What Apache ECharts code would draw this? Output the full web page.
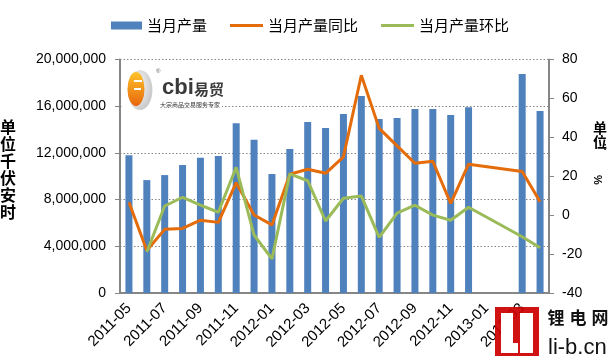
<!DOCTYPE html>
<html>
<head>
<meta charset="utf-8">
<script src="https://cdn.jsdelivr.net/npm/echarts@6/dist/echarts.min.js"></script>
<style>html,body{margin:0;padding:0;background:#fff;}#c{width:611px;height:356px;}</style>
</head>
<body>
<div id="c"></div>
<script>
const months = ['2011-05','2011-06','2011-07','2011-08','2011-09','2011-10','2011-11','2011-12',
  '2012-01','2012-02','2012-03','2012-04','2012-05','2012-06','2012-07','2012-08','2012-09','2012-10','2012-11','2012-12',
  '2013-01','2013-02','2013-03','2013-04'];
const output = [11800000, 9670000, 10100000, 10960000, 11580000, 11730000, 14550000, 13130000,
  10190000, 12330000, 14640000, 14130000, 15330000, 16870000, 14900000, 14980000, 15750000, 15750000, 15240000, 15920000,
  null, null, 18750000, 15580000];
const yoy = [6.6, -18.2, -7.3, -6.8, -2.6, -3.7, 16.7, 0.1,
  -5.0, 21.0, 23.6, 21.5, 30.0, 71.9, 44.6, 35.6, 26.7, 27.7, 6.1, 26.2,
  null, null, 22.4, 6.9];
const mom = [null, -18.9, 4.7, 9.2, 5.2, 1.5, 24.6, -10.2,
  -22.5, 21.2, 17.7, -3.0, 8.7, 9.9, -11.4, 1.1, 5.1, 0.0, -2.6, 4.1,
  null, null, -11.1, -16.7];
const seriesNames = ['当月产量', '当月产量同比', '当月产量环比'];

const numFont = 'Liberation Sans';
const cjkFont = 'Noto Sans CJK SC';
const axisGray = '#868686';

const chart = echarts.init(document.getElementById('c'), null, {renderer: 'canvas'});
chart.setOption({
  animation: false,
  backgroundColor: '#fff',
  grid: {left: 120, right: 62, top: 59.5, bottom: 63, containLabel: false},
  legend: [
    {data: [seriesNames[0]], left: 106, top: 13, icon: 'rect', itemWidth: 31, itemHeight: 8,
     textStyle: {fontFamily: cjkFont, fontSize: 15, color: '#000', padding: [0, 0, 6, 0]}},
    {data: [seriesNames[1], seriesNames[2]], left: 225, top: 13, icon: 'rect', itemWidth: 33, itemHeight: 3, itemGap: 23,
     textStyle: {fontFamily: cjkFont, fontSize: 15, color: '#000', padding: [0, 0, 6, 0]}}
  ],
  xAxis: {
    type: 'category', data: months, boundaryGap: true,
    axisLine: {lineStyle: {color: axisGray, width: 2}},
    axisTick: {interval: 1, length: 5, lineStyle: {color: axisGray, width: 1}},
    axisLabel: {interval: 1, rotate: 45, margin: 13, fontFamily: numFont, fontSize: 15, color: '#000'},
    splitLine: {show: false}
  },
  yAxis: [
    {type: 'value', min: 0, max: 20000000, interval: 4000000, position: 'left',
     axisLine: {show: true, lineStyle: {color: axisGray, width: 2}},
     axisTick: {show: true, length: 5, lineStyle: {color: axisGray}},
     axisLabel: {fontFamily: numFont, fontSize: 14, color: '#000', margin: 14,
       formatter: v => v.toLocaleString('en-US')},
     splitLine: {show: true, lineStyle: {color: axisGray, type: [1.5, 2], width: 1}}},
    {type: 'value', min: -40, max: 80, interval: 20, position: 'right',
     axisLine: {show: true, lineStyle: {color: axisGray, width: 2}},
     axisTick: {show: true, length: 5, lineStyle: {color: axisGray}},
     axisLabel: {fontFamily: numFont, fontSize: 14, color: '#000', margin: 13},
     splitLine: {show: false}}
  ],
  series: [
    {name: seriesNames[0], type: 'bar', data: output, barWidth: 7, itemStyle: {color: '#4F81BD'}, yAxisIndex: 0},
    {name: seriesNames[1], type: 'line', data: yoy, yAxisIndex: 1, connectNulls: true, symbol: 'none',
     itemStyle: {color: '#E46C0A'}, lineStyle: {color: '#E46C0A', width: 3}},
    {name: seriesNames[2], type: 'line', data: mom, yAxisIndex: 1, connectNulls: true, symbol: 'none',
     itemStyle: {color: '#9BBB59'}, lineStyle: {color: '#9BBB59', width: 3}}
  ],
  graphic: [
    {type: 'text', left: 0, top: 118, z: 10, style: {text: '单\n位\n千\n伏\n安\n时', font: 'bold 16px "Noto Sans CJK SC"', lineHeight: 17, fill: '#000', align: 'left'}},
    {type: 'text', x: 600, y: 121, z: 10, style: {text: '单\n位', font: 'bold 14px "Noto Sans CJK SC"', lineHeight: 14, fill: '#000', align: 'center', verticalAlign: 'top'}},
    {type: 'text', x: 605, y: 147, z: 10, style: {text: ':', font: 'bold 11px "Liberation Sans"', fill: '#000', align: 'center', verticalAlign: 'middle'}},
    {type: 'text', x: 597, y: 180, rotation: -Math.PI / 2, z: 10, style: {text: '%', font: 'bold 11px "Liberation Sans"', fill: '#000', align: 'center', verticalAlign: 'middle'}},
    // logo
    {type: 'rect', z: 1, shape: {x: 122, y: 63, width: 100, height: 48}, style: {fill: '#fff'}},
    {type: 'circle', z: 1, x: 140, y: 90, scaleX: 0.62, shape: {cx: 0, cy: 0, r: 20},
     style: {fill: new echarts.graphic.RadialGradient(0.35, 0.4, 0.8, [{offset: 0, color: '#ffffff'}, {offset: 1, color: '#bdbdbd'}])}},
    {type: 'circle', z: 1, x: 136, y: 89, scaleX: 0.5, shape: {cx: 0, cy: 0, r: 17},
     style: {fill: new echarts.graphic.LinearGradient(0, 0, 0, 1, [{offset: 0, color: '#FDC42A'}, {offset: 1, color: '#E8660C'}])}},
    {type: 'rect', z: 1, shape: {x: 134, y: 80, width: 8, height: 2}, style: {fill: '#fff'}},
    {type: 'rect', z: 1, shape: {x: 134, y: 88, width: 7, height: 2}, style: {fill: '#fff'}},
    {type: 'text', z: 1, x: 162, y: 88, style: {text: 'cbi', font: 'bold 22px "Liberation Sans"', fill: '#3a3a3a', verticalAlign: 'middle'}},
    {type: 'text', z: 1, x: 194, y: 89, style: {text: '易贸', font: 'bold 15px "Noto Sans CJK SC"', fill: '#3a3a3a', verticalAlign: 'middle'}},
    {type: 'text', z: 1, x: 156, y: 71, style: {text: '®', font: '6px "Liberation Sans"', fill: '#555', verticalAlign: 'middle'}},
    {type: 'text', z: 1, x: 160, y: 105, style: {text: '大宗商品交易服务专家', font: '6px "Noto Sans CJK SC"', fill: '#333', verticalAlign: 'middle'}},
    // watermark
    {type: 'rect', z: 100, shape: {x: 495, y: 307, width: 44, height: 52}, style: {fill: '#CC0000', opacity: 0.93}},
    {type: 'rect', z: 101, shape: {x: 501, y: 313, width: 12, height: 40}, style: {fill: '#fff'}},
    {type: 'rect', z: 101, shape: {x: 501, y: 343, width: 17, height: 10}, style: {fill: '#fff'}},
    {type: 'rect', z: 101, shape: {x: 520, y: 313, width: 13, height: 40}, style: {fill: '#fff'}},
    {type: 'text', z: 101, x: 556, y: 318, style: {text: '锂', font: 'bold 17px "Noto Sans CJK SC"', fill: '#111', align: 'center', verticalAlign: 'middle'}},
    {type: 'text', z: 101, x: 578, y: 318, style: {text: '电', font: 'bold 17px "Noto Sans CJK SC"', fill: '#111', align: 'center', verticalAlign: 'middle'}},
    {type: 'text', z: 101, x: 600, y: 318, style: {text: '网', font: 'bold 17px "Noto Sans CJK SC"', fill: '#111', align: 'center', verticalAlign: 'middle'}},
    {type: 'text', z: 101, x: 548, y: 359, style: {text: 'li-b.cn', font: '22px "Liberation Sans"', fill: '#111', align: 'left', verticalAlign: 'bottom'}}
  ]
});
</script>
</body>
</html>
